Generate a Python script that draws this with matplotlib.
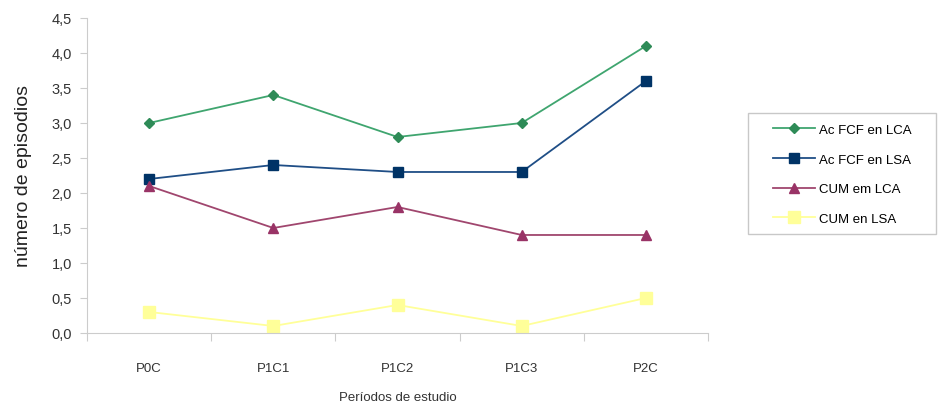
import matplotlib
matplotlib.use("Agg")
import matplotlib.pyplot as plt
from matplotlib.patches import Rectangle

plt.rcParams["font.family"] = ["Liberation Sans", "DejaVu Sans"]

periods = ["P0C", "P1C1", "P1C2", "P1C3", "P2C"]
ac_fcf_lca = [3.0, 3.4, 2.8, 3.0, 4.1]
ac_fcf_lsa = [2.2, 2.4, 2.3, 2.3, 3.6]
cum_lca = [2.1, 1.5, 1.8, 1.4, 1.4]
cum_lsa = [0.3, 0.1, 0.4, 0.1, 0.5]
y_ticks = [0.0, 0.5, 1.0, 1.5, 2.0, 2.5, 3.0, 3.5, 4.0, 4.5]

fig = plt.figure(figsize=(9.38, 4.10), dpi=100)
ax = fig.add_axes([0.0928, 0.1854, 0.662, 0.7683])

x = list(range(len(periods)))
ax.plot(x, ac_fcf_lca, color="#3fa56f", lw=1.3, marker="D", ms=5.5,
        mfc="#2e8b57", mec="#2e8b57", label="Ac FCF en LCA")
ax.plot(x, ac_fcf_lsa, color="#1f4e86", lw=1.3, marker="s", ms=6.5,
        mfc="#003366", mec="#003366", label="Ac FCF en LSA")
ax.plot(x, cum_lca, color="#a0466e", lw=1.3, marker="^", ms=7.5,
        mfc="#993366", mec="#993366", label="CUM em LCA")
ax.plot(x, cum_lsa, color="#ffff99", lw=1.3, marker="s", ms=8.5,
        mfc="#ffff99", mec="#ffff99", label="CUM en LSA")

ax.set_xlim(-0.5, 4.5)
ax.set_ylim(0, 4.5)
ax.set_yticks(y_ticks)
ax.set_yticklabels([f"{v:.1f}".replace(".", ",") for v in y_ticks],
                   fontsize=10.5, color="#333333")
ax.set_xticks([i - 0.5 for i in range(len(periods) + 1)])
ax.set_xticklabels([])
ax.set_xticks(x, minor=True)
ax.set_xticklabels(periods, minor=True, fontsize=9.5, color="#333333")
ax.tick_params(axis="x", which="minor", length=0, pad=21)
ax.tick_params(axis="x", which="major", length=6, direction="out", color="#cccccc")
ax.tick_params(axis="y", length=5, direction="out", color="#cccccc", pad=6)

for side in ("top", "right"):
    ax.spines[side].set_visible(False)
for side in ("left", "bottom"):
    ax.spines[side].set_color("#cccccc")

ax.set_ylabel("número de episodios", fontsize=14, color="#222222", labelpad=14)
ax.set_xlabel("Períodos de estudio", fontsize=9.5, color="#333333", labelpad=12)

# legend box drawn separately so the padding around the entries can be wide
fig.patches.append(Rectangle((0.7974, 0.4268), 0.2006, 0.2952,
                             transform=fig.transFigure, fill=False,
                             edgecolor="#c8c8c8", linewidth=1.0))
leg = fig.legend(loc="upper left", bbox_to_anchor=(0.824, 0.696),
                 frameon=False, fontsize=9.5, borderpad=0, borderaxespad=0,
                 handlelength=3.2, labelspacing=1.32, handletextpad=0.3)

fig.savefig("out.png", dpi=100)
